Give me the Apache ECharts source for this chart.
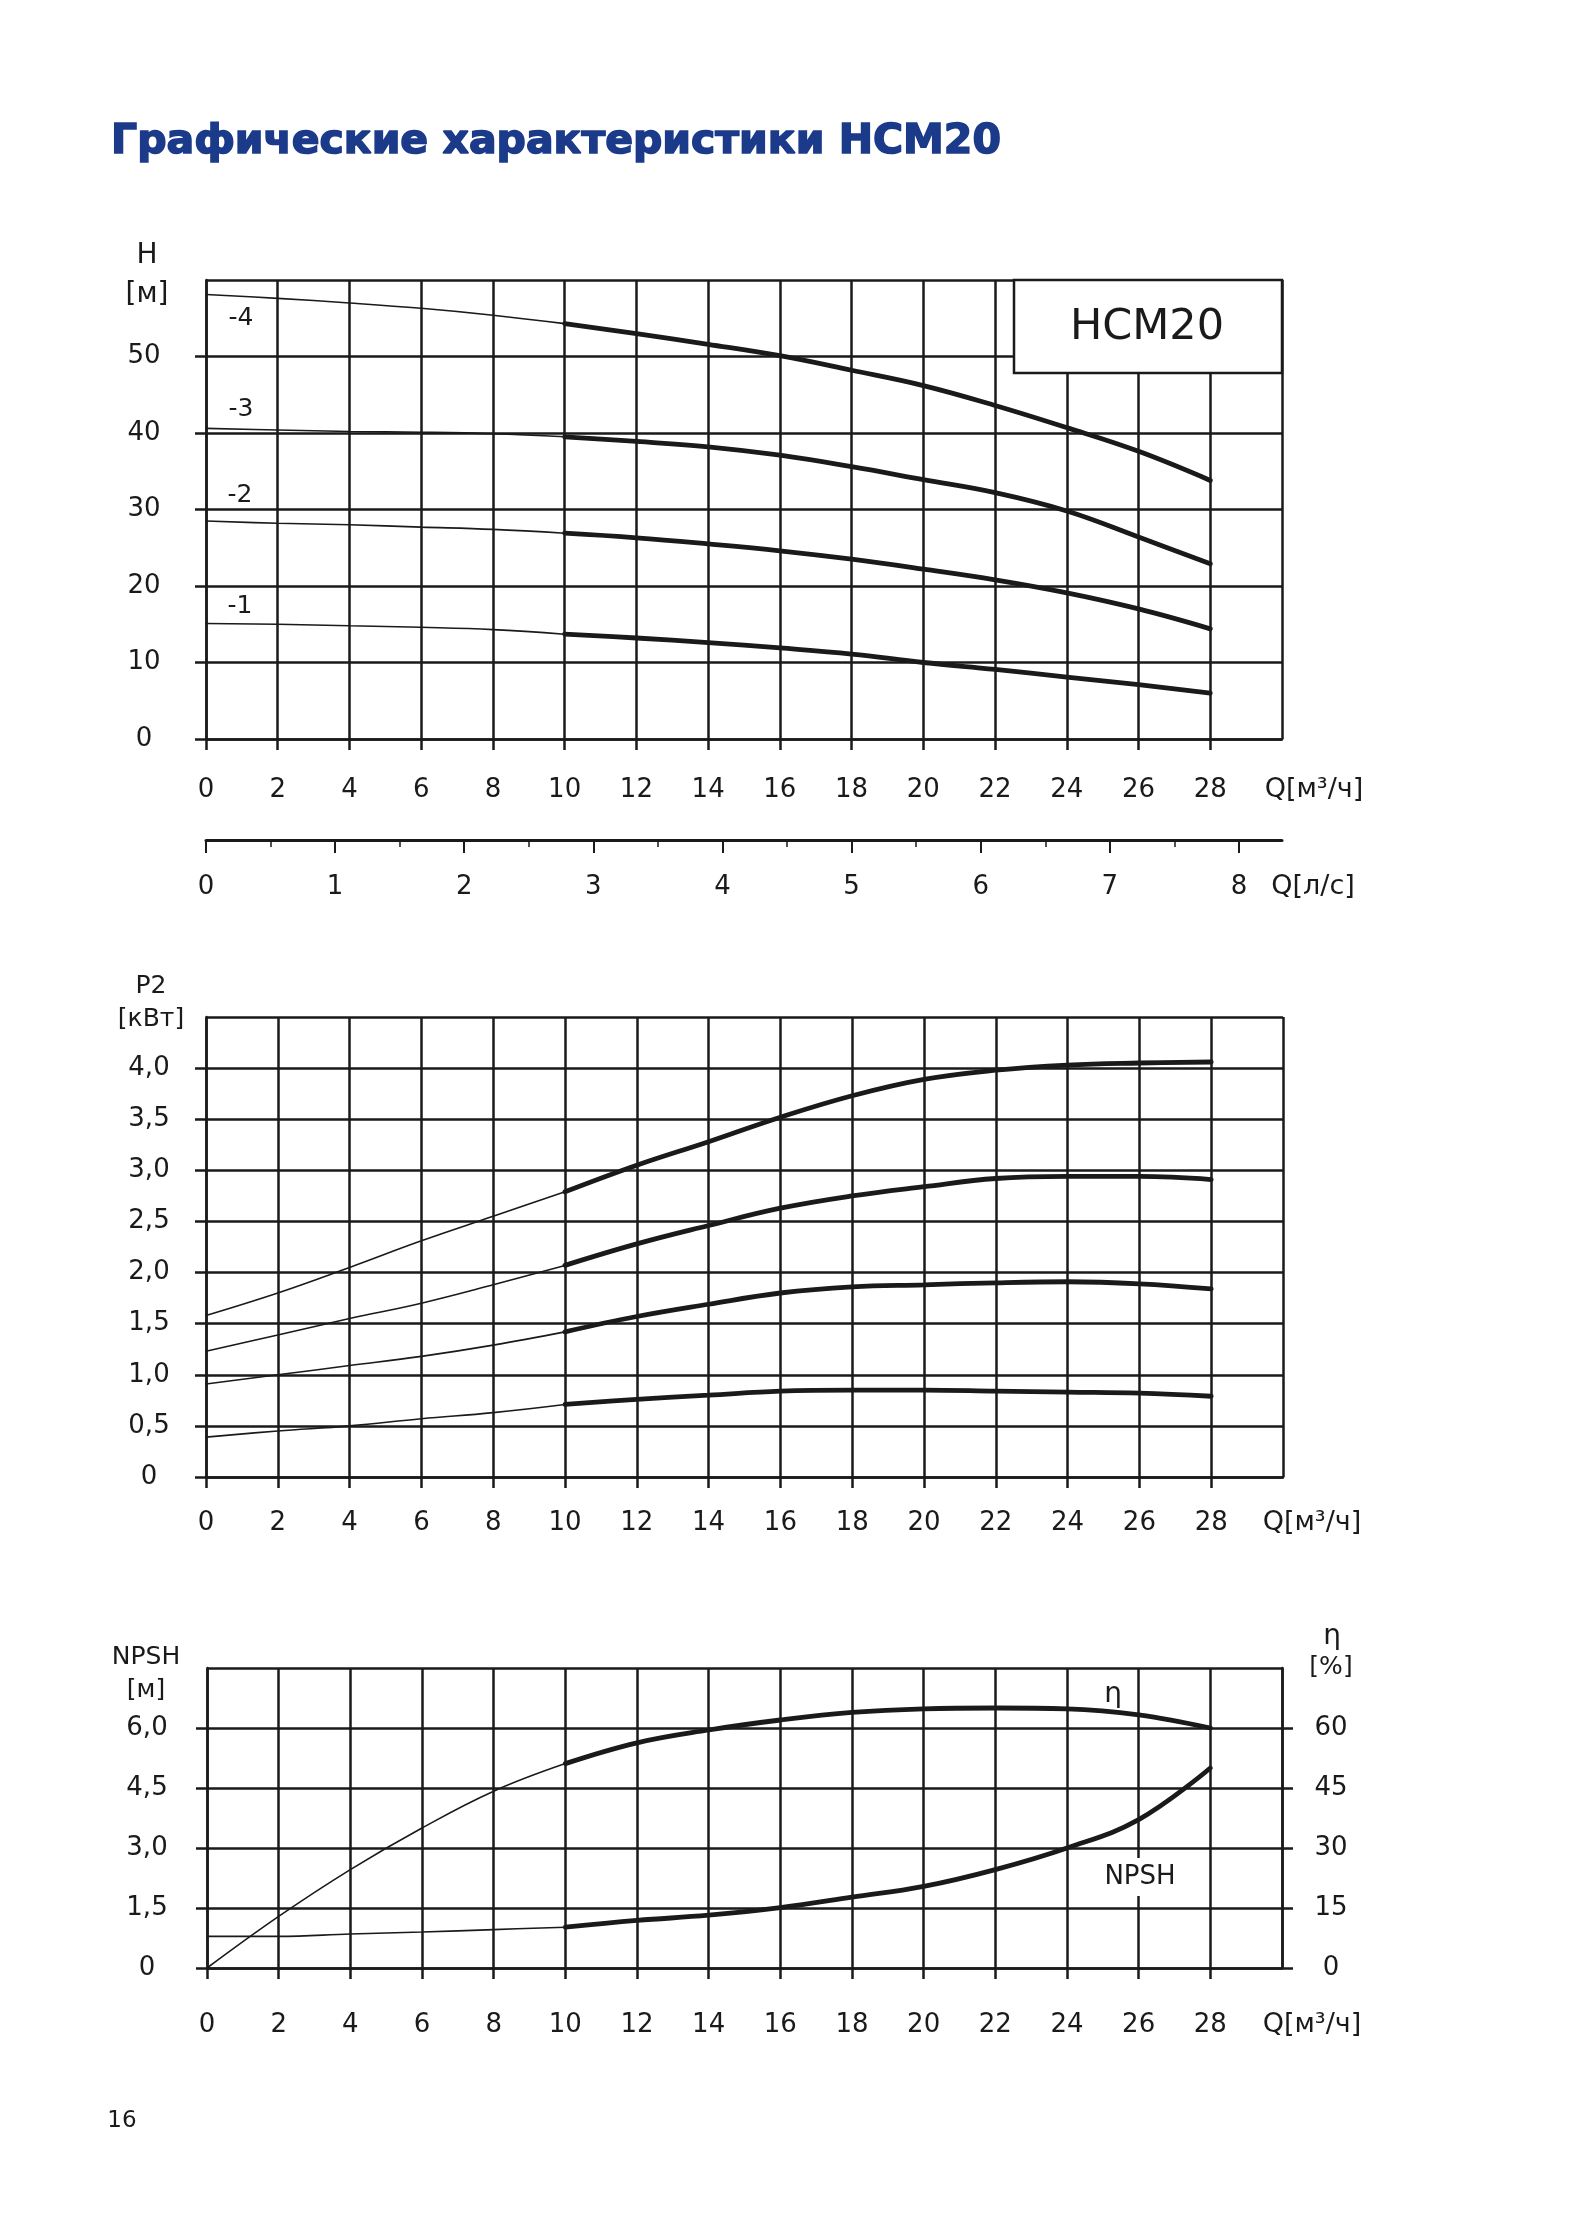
<!DOCTYPE html>
<html>
<head>
<meta charset="utf-8">
<title>Графические характеристики HCM20</title>
<script src="https://cdn.jsdelivr.net/npm/echarts@6/dist/echarts.min.js"></script>
<style>
html, body { margin: 0; padding: 0; background: #fff; }
#chart { width: 1571px; height: 2220px; }
</style>
</head>
<body>
<div id="chart"></div>
<script>
// flow, m3/h
const flow = [0, 2, 4, 6, 8, 10, 12, 14, 16, 18, 20, 22, 24, 26, 28];

// head H [m], curves -1 .. -4
const head1 = [15.1, 15.0, 14.8, 14.6, 14.3, 13.7, 13.2, 12.6, 11.9, 11.1, 10.0, 9.1, 8.1, 7.1, 6.0];
const head2 = [28.5, 28.2, 28.0, 27.7, 27.4, 26.9, 26.3, 25.5, 24.6, 23.5, 22.2, 20.8, 19.1, 17.0, 14.4];
const head3 = [40.6, 40.4, 40.2, 40.1, 39.9, 39.5, 38.9, 38.2, 37.1, 35.6, 33.9, 32.2, 29.8, 26.4, 22.9];
const head4 = [58.1, 57.6, 57.0, 56.3, 55.4, 54.3, 53.0, 51.6, 50.1, 48.2, 46.2, 43.6, 40.7, 37.6, 33.8];

// power P2 [kW]
const power1 = [0.39, 0.45, 0.50, 0.57, 0.63, 0.71, 0.76, 0.80, 0.84, 0.85, 0.85, 0.84, 0.83, 0.82, 0.79];
const power2 = [0.91, 1.00, 1.09, 1.18, 1.29, 1.42, 1.57, 1.69, 1.80, 1.86, 1.88, 1.90, 1.91, 1.89, 1.84];
const power3 = [1.23, 1.39, 1.55, 1.70, 1.88, 2.07, 2.28, 2.46, 2.63, 2.75, 2.84, 2.92, 2.94, 2.94, 2.91];
const power4 = [1.58, 1.80, 2.05, 2.31, 2.55, 2.79, 3.05, 3.28, 3.52, 3.73, 3.89, 3.98, 4.03, 4.05, 4.06];

// efficiency [%] and NPSH [m]
const efficiency = [0, 12.9, 24.6, 35.0, 44.2, 51.1, 56.3, 59.5, 62.0, 63.9, 64.8, 65.0, 64.8, 63.3, 60.0];
const npsh = [0.79, 0.79, 0.85, 0.90, 0.96, 1.02, 1.19, 1.32, 1.51, 1.77, 2.04, 2.46, 3.00, 3.71, 5.00];

// second flow scale, l/s (1 l/s = 3.6 m3/h)
const lpsMax = 8;
const lpsEnd = 30 / 3.6;

const FONT = 'DejaVu Sans';
const ink = '#1a1a1a';
const GRID_W = 2.5;
const THIN = 1.6;
const THICK = 4.8;
const BREAK = 5; // index of 10 m3/h, where the working range starts

let chart = echarts.init(document.getElementById('chart'), null, { renderer: 'canvas' });

function comma(v) {
  return v === 0 ? '0' : v.toFixed(1).replace('.', ',');
}

function flowAxis(gridIndex, margin) {
  return {
    type: 'value', gridIndex: gridIndex, min: 0, max: 30, interval: 2,
    axisLine: { show: true, onZero: false, lineStyle: { color: ink, width: GRID_W } },
    axisTick: { show: true, length: 11, lineStyle: { color: ink, width: GRID_W } },
    splitLine: { show: true, lineStyle: { color: ink, width: GRID_W } },
    axisLabel: { margin: margin, color: ink, fontFamily: FONT, fontSize: 26, showMaxLabel: false }
  }
}

function valueAxis(gridIndex, max, interval, margin, formatter, position) {
  return {
    type: 'value', gridIndex: gridIndex, min: 0, max: max, interval: interval,
    position: position || 'left',
    axisLine: { show: true, onZero: false, lineStyle: { color: ink, width: GRID_W } },
    axisTick: { show: true, length: 11, lineStyle: { color: ink, width: GRID_W } },
    splitLine: { show: position !== 'right', lineStyle: { color: ink, width: GRID_W } },
    axisLabel: {
      margin: margin, color: ink, fontFamily: FONT, fontSize: 26,
      align: 'center', showMaxLabel: false, formatter: formatter
    }
  }
}

function hiddenAxis(gridIndex) {
  return { type: 'value', gridIndex: gridIndex, min: 0, max: 1, show: false }
}

function curve(xIdx, yIdx, values, from, to, width) {
  let data = []
  for (let i = from; i <= to; i++) data.push([flow[i], values[i]])
  return {
    type: 'line', xAxisIndex: xIdx, yAxisIndex: yIdx, data: data,
    smooth: 0.4, symbol: 'none', silent: true, z: 5,
    lineStyle: { color: ink, width: width, cap: 'round' }
  }
}

function pair(xIdx, yIdx, values) {
  return [
    curve(xIdx, yIdx, values, 0, BREAK, THIN),
    curve(xIdx, yIdx, values, BREAK, flow.length - 1, THICK)
  ]
}

function txt(text, x, y, size, extra) {
  return {
    type: 'text', x: x, y: y, z: 100,
    style: Object.assign({
      text: text, fill: ink, font: size + 'px "' + FONT + '"',
      textAlign: 'center', textVerticalAlign: 'middle'
    }, extra || {})
  }
}

// width of 0..8 l/s on the m3/h scale of the first chart
const lpsWidth = 1076 * (lpsMax * 3.6) / 30;

let option = {
  animation: false,
  backgroundColor: '#fff',
  grid: [
    { left: 206, top: 280, width: 1076, height: 459 },
    { left: 206, top: 1017, width: 1077, height: 460 },
    { left: 207, top: 1668, width: 1075, height: 300 },
    { left: 206, top: 839, width: 1076, height: 1 },
    { left: 206, top: 839, width: lpsWidth, height: 1 }
  ],
  xAxis: [
    flowAxis(0, 38),
    flowAxis(1, 33),
    flowAxis(2, 44),
    {
      type: 'value', gridIndex: 3, min: 0, max: lpsEnd,
      axisLine: { show: true, onZero: false, lineStyle: { color: ink, width: 3 } },
      axisTick: { show: false },
      splitLine: { show: false },
      axisLabel: { show: false }
    },
    {
      type: 'value', gridIndex: 4, min: 0, max: lpsMax, interval: 1,
      axisLine: { show: false, onZero: false },
      axisTick: { show: true, length: 13, lineStyle: { color: ink, width: 2 } },
      minorTick: { show: true, splitNumber: 2, length: 7, lineStyle: { color: ink, width: 1.5 } },
      splitLine: { show: false },
      axisLabel: { margin: 34, color: ink, fontFamily: FONT, fontSize: 26 }
    }
  ],
  yAxis: [
    valueAxis(0, 60, 10, 62, v => String(v)),
    valueAxis(1, 4.5, 0.5, 57, comma),
    valueAxis(2, 7.5, 1.5, 60, comma),
    valueAxis(2, 75, 15, 49, v => String(v), 'right'),
    hiddenAxis(3),
    hiddenAxis(4)
  ],
  series: [].concat(
    pair(0, 0, head1), pair(0, 0, head2), pair(0, 0, head3), pair(0, 0, head4),
    pair(1, 1, power1), pair(1, 1, power2), pair(1, 1, power3), pair(1, 1, power4),
    pair(2, 3, efficiency), pair(2, 2, npsh)
  ),
  graphic: [
    txt('Графические характеристики HCM20', 111, 142, 41, {
      textAlign: 'left', fill: '#1b3a8a', stroke: '#1b3a8a', lineWidth: 1.6,
      font: 'bold 41px "' + FONT + '"'
    }),
    // chart 1
    txt('H', 147, 256, 28),
    txt('[м]', 147, 295, 28),
    txt('-4', 241, 318, 25),
    txt('-3', 241, 409, 25),
    txt('-2', 240, 495, 25),
    txt('-1', 240, 606, 25),
    {
      type: 'rect', z: 90,
      shape: { x: 1014, y: 280, width: 268, height: 93 },
      style: { fill: '#fff', stroke: ink, lineWidth: GRID_W }
    },
    txt('HCM20', 1147, 328, 43),
    txt('Q[м³/ч]', 1314, 790, 27),
    txt('Q[л/с]', 1313, 887, 27),
    // chart 2
    txt('P2', 151, 986, 25),
    txt('[кВт]', 151, 1019, 25),
    txt('Q[м³/ч]', 1312, 1523, 27),
    // chart 3
    txt('NPSH', 146, 1657, 25),
    txt('[м]', 146, 1690, 25),
    txt('η', 1332, 1637, 28),
    txt('[%]', 1331, 1667, 25),
    txt('η', 1113, 1695, 28),
    txt('NPSH', 1140, 1877, 26, { backgroundColor: '#fff', padding: [6, 4] }),
    txt('Q[м³/ч]', 1312, 2025, 27),
    txt('16', 122, 2121, 23)
  ]
}

option && chart.setOption(option)
</script>
</body>
</html>
